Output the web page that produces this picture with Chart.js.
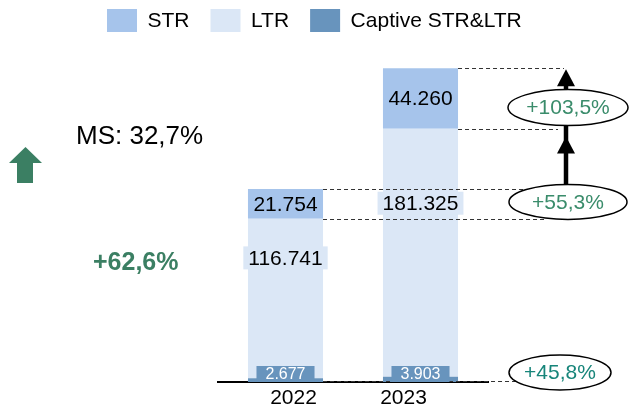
<!DOCTYPE html>
<html>
<head>
<meta charset="utf-8">
<script src="https://cdn.jsdelivr.net/npm/chart.js@4.4.1/dist/chart.umd.min.js"></script>
<style>
  html, body { margin: 0; padding: 0; background: #fff; }
</style>
</head>
<body>
<canvas id="chart" width="629" height="408"></canvas>
<script>
// data
const years = ['2022', '2023'];
const captive = [2677, 3903];
const ltr = [116741, 181325];
const str = [21754, 44260];
const growth = { str: '+103,5%', ltr: '+55,3%', captive: '+45,8%' };
const marketShare = 'MS: 32,7%';
const totalGrowth = '+62,6%';

const C_STR = '#a6c4eb';
const C_LTR = '#dbe7f6';
const C_CAP = '#6894bd';
const GREEN = '#3b7f63';
const FONT = 'Arial, "Liberation Sans", sans-serif';

const fmt = v => String(v).replace(/\B(?=(\d{3})+(?!\d))/g, '.');

const overlay = {
  id: 'overlay',
  afterDatasetsDraw(chart) {
    const { ctx, chartArea, scales: { y } } = chart;
    const cap = chart.getDatasetMeta(0).data;
    const lt = chart.getDatasetMeta(1).data;
    const st = chart.getDatasetMeta(2).data;
    const base = y.getPixelForValue(0);
    const r0 = st[0].x + st[0].width / 2;
    const r1 = st[1].x + st[1].width / 2;
    const ax = chartArea.right + 78;

    // ellipse positions
    const e1 = { x: chartArea.right + 80, y: (st[1].y + st[1].base) / 2 + 9, rx: 60, ry: 18, t: growth.str, c: '#3a8c6b' };
    const e2 = { x: chartArea.right + 80, y: (st[0].y + st[0].base) / 2 - 2, rx: 59, ry: 17.5, t: growth.ltr, c: '#3a8c6b' };
    const e3 = { x: chartArea.right + 72, y: base - 9.5, rx: 51, ry: 17.5, t: growth.captive, c: '#17857a' };

    ctx.save();
    // dashed guide lines
    ctx.setLineDash([4, 3]);
    ctx.lineWidth = 1;
    ctx.strokeStyle = '#333';
    const line = (x1, x2, yy) => {
      ctx.beginPath();
      ctx.moveTo(x1, Math.round(yy) + 0.5);
      ctx.lineTo(x2, Math.round(yy) + 0.5);
      ctx.stroke();
    };
    line(r0, 545, st[0].y);
    line(r0, 545, lt[0].y);
    line(r1, ax - 2, st[1].y);
    line(r1, ax - 8, lt[1].y);
    line(r0, 520, base - 1);
    ctx.setLineDash([]);

    // bar labels
    ctx.textAlign = 'center';
    ctx.textBaseline = 'middle';
    const ltrFrac = [0.245, 0.30];
    for (let i = 0; i < years.length; i++) {
      // STR
      ctx.font = '21px ' + FONT;
      ctx.fillStyle = '#000';
      ctx.fillText(fmt(str[i]), st[i].x, (st[i].y + st[i].base) / 2 + 1);
      // LTR
      const ty = lt[i].y + ltrFrac[i] * (lt[i].base - lt[i].y);
      const tw = ctx.measureText(fmt(ltr[i])).width;
      ctx.fillStyle = C_LTR;
      ctx.fillRect(lt[i].x - tw / 2 - 5, ty - 11.5, tw + 10, 23);
      ctx.fillStyle = '#000';
      ctx.fillText(fmt(ltr[i]), lt[i].x, ty + 1);
      // Captive
      ctx.font = '16px ' + FONT;
      const cw = ctx.measureText(fmt(captive[i])).width + 18;
      ctx.fillStyle = C_CAP;
      ctx.fillRect(cap[i].x - cw / 2, cap[i].base - 16, cw, 16);
      ctx.fillStyle = '#fff';
      ctx.fillText(fmt(captive[i]), cap[i].x, cap[i].base - 7.5);
    }

    // year labels under the axis (slightly off-centre, as in the source)
    const yearShift = [8, -17];
    ctx.font = '21px ' + FONT;
    ctx.fillStyle = '#000';
    years.forEach((yr, i) => ctx.fillText(yr, st[i].x + yearShift[i], chartArea.bottom + 16));

    // growth arrow
    const top = st[1].y + 1;
    ctx.strokeStyle = '#000';
    ctx.fillStyle = '#000';
    ctx.lineWidth = 4.5;
    ctx.beginPath();
    ctx.moveTo(ax, e2.y - e2.ry);
    ctx.lineTo(ax, top + 12);
    ctx.stroke();
    const head = (tip) => {
      ctx.beginPath();
      ctx.moveTo(ax, tip);
      ctx.lineTo(ax - 9, tip + 17);
      ctx.lineTo(ax + 9, tip + 17);
      ctx.closePath();
      ctx.fill();
    };
    head(top);
    head(e1.y + e1.ry + 11);

    // ellipses
    ctx.lineWidth = 1.5;
    ctx.font = '21px ' + FONT;
    [e1, e2, e3].forEach(e => {
      ctx.beginPath();
      ctx.ellipse(e.x, e.y, e.rx, e.ry, 0, 0, Math.PI * 2);
      ctx.fillStyle = '#fff';
      ctx.fill();
      ctx.strokeStyle = '#000';
      ctx.stroke();
      ctx.fillStyle = e.c;
      ctx.fillText(e.t, e.x, e.y + 1);
    });

    // left side notes
    ctx.fillStyle = GREEN;
    ctx.beginPath();
    ctx.moveTo(25.5, 147);
    ctx.lineTo(42, 163);
    ctx.lineTo(33, 163);
    ctx.lineTo(33, 183);
    ctx.lineTo(17, 183);
    ctx.lineTo(17, 163);
    ctx.lineTo(9, 163);
    ctx.closePath();
    ctx.fill();

    ctx.textAlign = 'left';
    ctx.fillStyle = '#000';
    ctx.font = '26px ' + FONT;
    ctx.fillText(marketShare, 76, 137);
    ctx.fillStyle = GREEN;
    ctx.font = 'bold 25px ' + FONT;
    ctx.fillText(totalGrowth, 93, 263);
    ctx.restore();
  },
  afterDraw(chart) {
    // legend
    const { ctx } = chart;
    const items = [2, 1, 0].map(i => chart.data.datasets[i]);
    ctx.save();
    ctx.font = '21px ' + FONT;
    ctx.textBaseline = 'middle';
    ctx.textAlign = 'left';
    let x = 107;
    items.forEach(ds => {
      ctx.fillStyle = ds.backgroundColor;
      ctx.fillRect(x, 9, 30, 23);
      ctx.fillStyle = '#000';
      ctx.fillText(ds.label, x + 40.5, 21.5);
      x += 40.5 + ctx.measureText(ds.label).width + 21;
    });
    ctx.restore();
  }
};

new Chart(document.getElementById('chart'), {
  type: 'bar',
  data: {
    labels: years,
    datasets: [
      { label: 'Captive STR&LTR', data: captive, backgroundColor: C_CAP },
      { label: 'LTR', data: ltr, backgroundColor: C_LTR },
      { label: 'STR', data: str, backgroundColor: C_STR }
    ]
  },
  options: {
    responsive: false,
    animation: false,
    devicePixelRatio: 1,
    layout: { padding: { left: 218, right: 141, top: 54, bottom: 0 } },
    datasets: { bar: { categoryPercentage: 1, barPercentage: 0.556 } },
    plugins: { legend: { display: false }, tooltip: { enabled: false } },
    scales: {
      x: {
        stacked: true,
        grid: { display: false, drawTicks: false },
        border: { color: '#000', width: 2 },
        ticks: { display: false },
        afterFit: s => { s.height = 26; }
      },
      y: { stacked: true, display: false, min: 0, max: 240000 }
    }
  },
  plugins: [overlay]
});
</script>
</body>
</html>
